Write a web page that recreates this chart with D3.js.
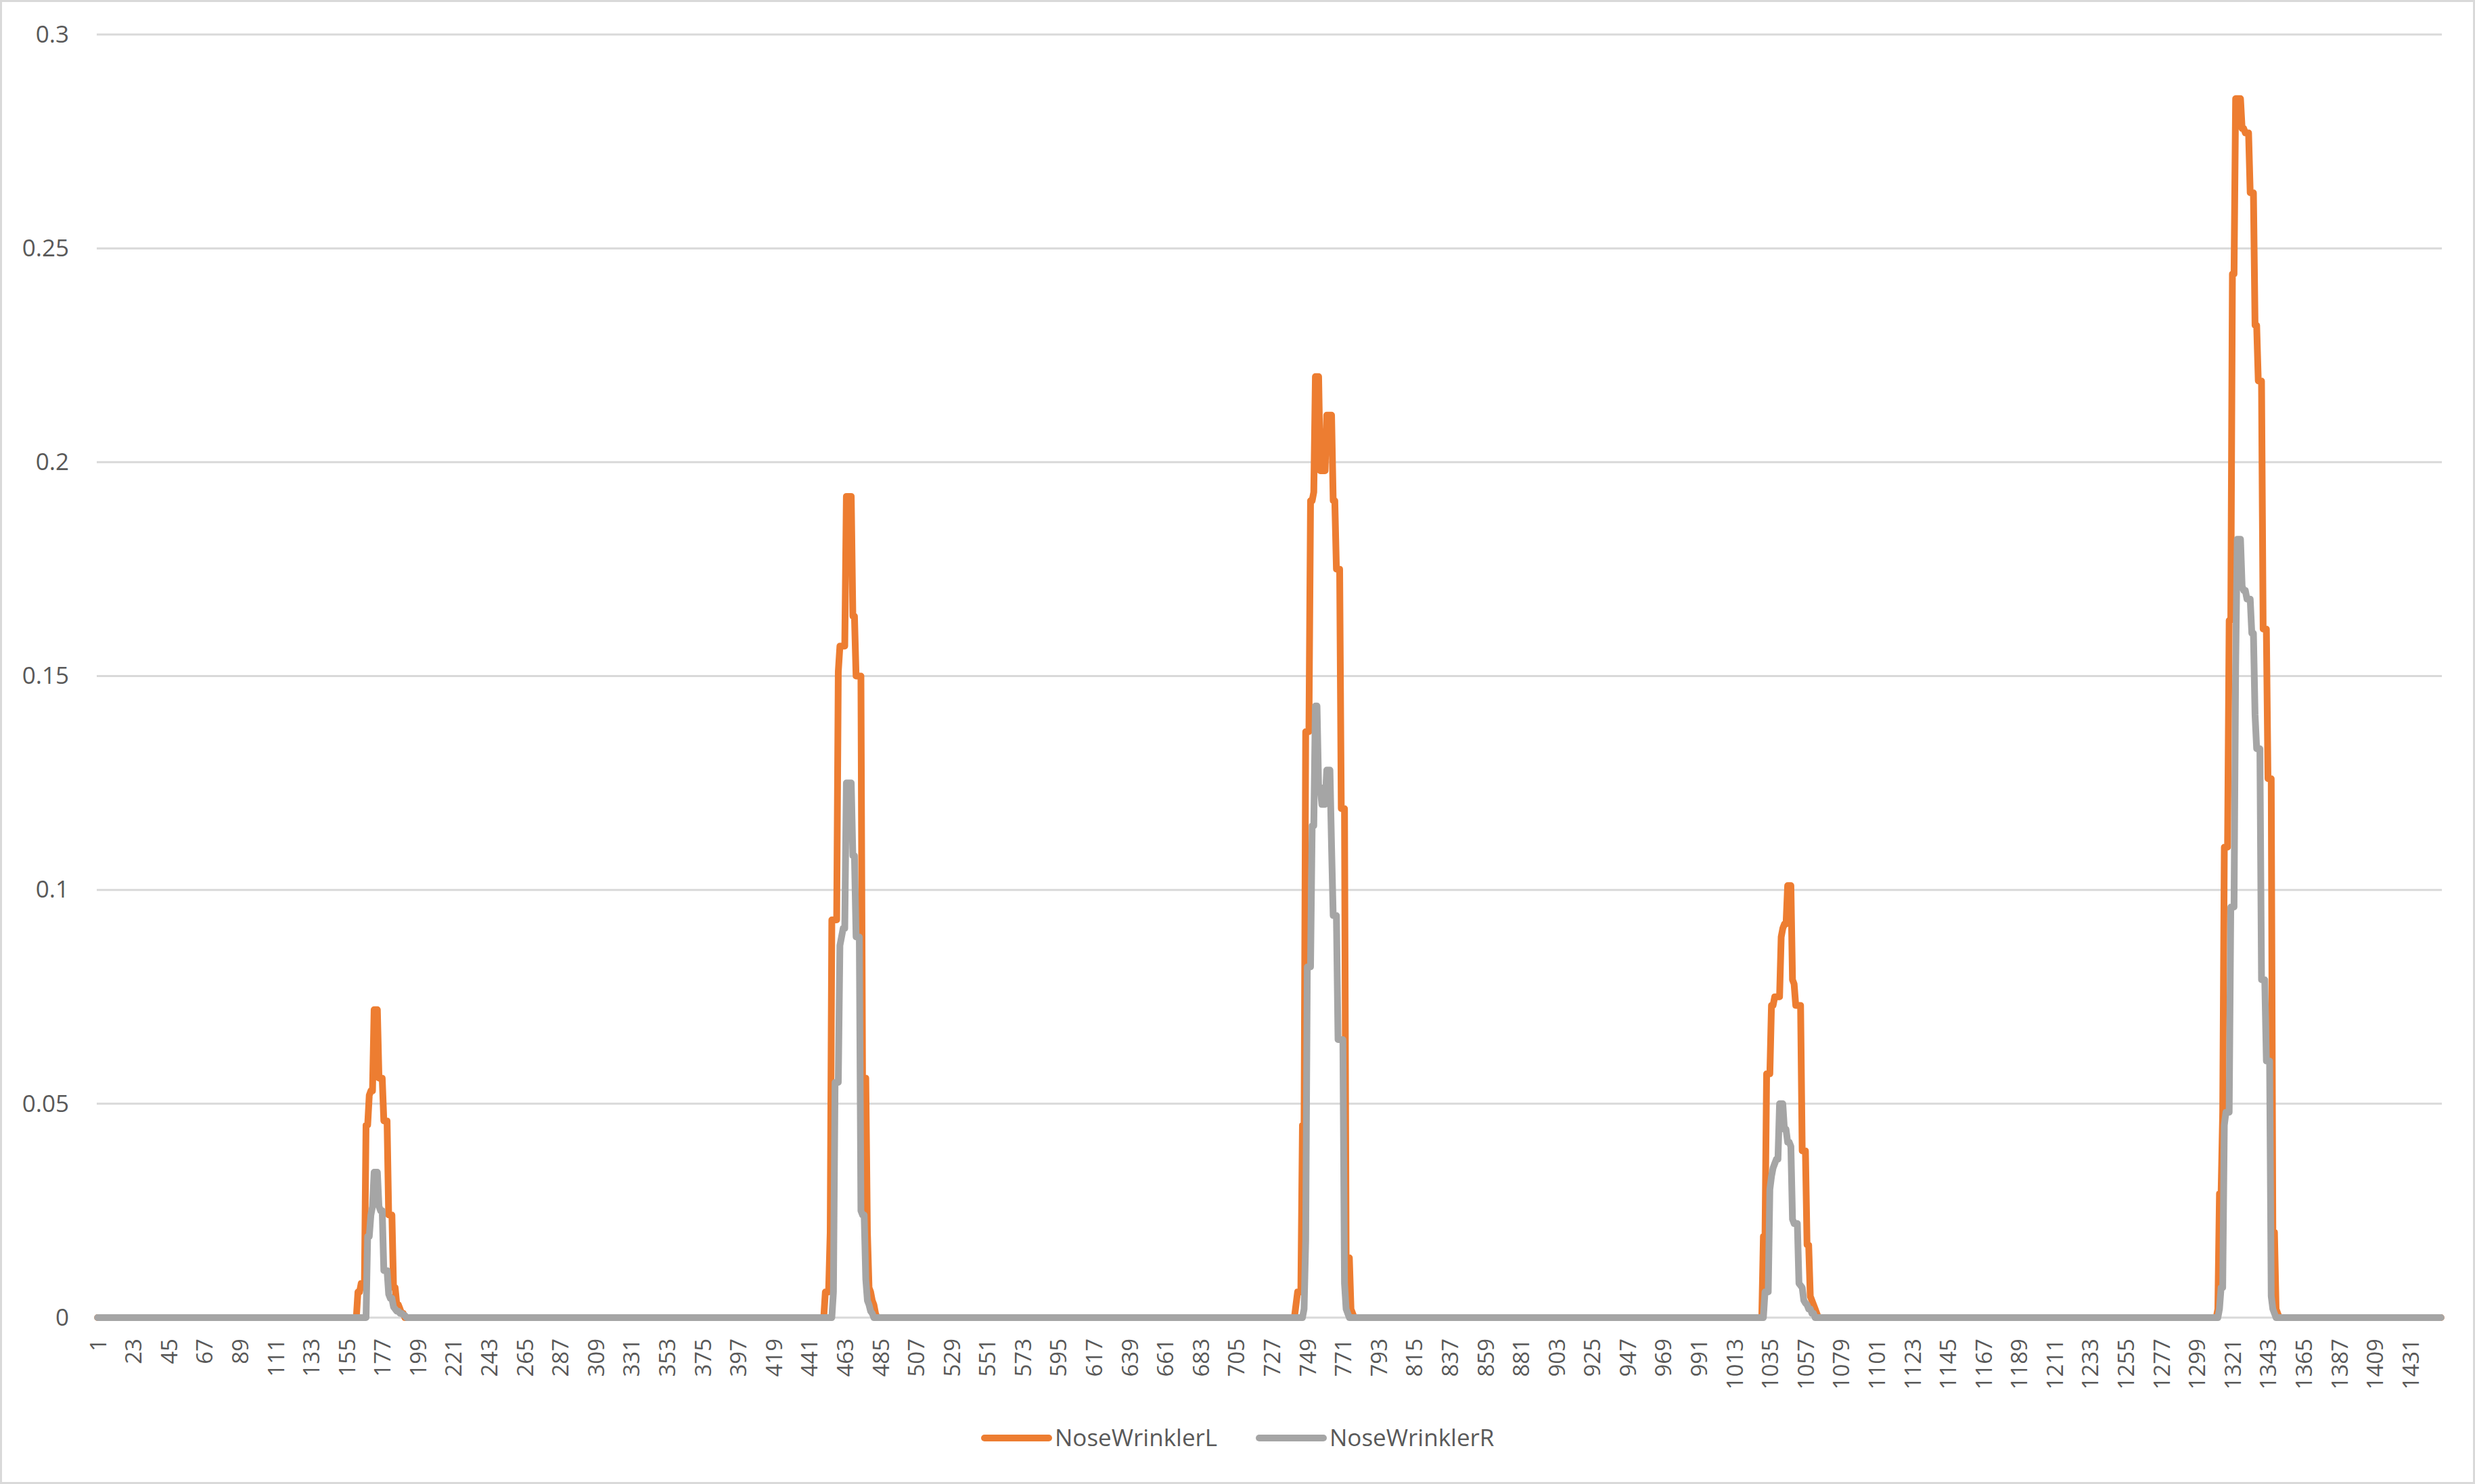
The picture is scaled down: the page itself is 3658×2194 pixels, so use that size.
<!DOCTYPE html>
<html>
<head>
<meta charset="utf-8">
<script src="https://cdnjs.cloudflare.com/ajax/libs/d3/7.8.5/d3.min.js"></script>
<style>
	html, body { margin: 0; padding: 0; background: #fff; }
	svg { display: block; font-family: "Open Sans", sans-serif; }
</style>
</head>
<body>
<div id="main"></div>
<script>
// Chart size and plot area
var totalWidth = 3658;
var totalHeight = 2194;
var plotLeft = 143;
var plotRight = 3609;
var plotTop = 51;
var plotBottom = 1948;
var lineWidth = 10;

// Categories (frame numbers) and axis ticks
var categoryCount = 1450;
var labelStep = 22;
var yTicks = [0, 0.05, 0.1, 0.15, 0.2, 0.25, 0.3];
var yLabels = ["0", "0.05", "0.1", "0.15", "0.2", "0.25", "0.3"];

var seriesNames = ["NoseWrinklerL", "NoseWrinklerR"];
var seriesColors = ["#ED7D31", "#A5A5A5"];

// NoseWrinklerL: first frame of each burst and its values (0 elsewhere)
var peakStartL = [162, 451, 742, 1031, 1312];
var peakValuesL = [
	[0.006, 0.006, 0.008, 0.008, 0.008, 0.045, 0.045, 0.052, 0.053, 0.053, 0.072, 0.072, 0.072, 0.056, 0.056, 0.056,
	 0.046, 0.046, 0.046, 0.024, 0.024, 0.024, 0.007, 0.007, 0.003, 0.003, 0.002, 0.001, 0.001],
	[0.006, 0.006, 0.006, 0.02, 0.093, 0.093, 0.093, 0.093, 0.151, 0.157, 0.157, 0.157, 0.157, 0.192, 0.192, 0.192,
	 0.192, 0.164, 0.164, 0.15, 0.15, 0.15, 0.15, 0.056, 0.056, 0.056, 0.02, 0.007, 0.006, 0.004, 0.003, 0.001],
	[0.003, 0.006, 0.006, 0.006, 0.045, 0.045, 0.137, 0.137, 0.137, 0.191, 0.191, 0.193, 0.22, 0.22, 0.22, 0.198,
	 0.198, 0.198, 0.198, 0.211, 0.211, 0.211, 0.211, 0.191, 0.191, 0.175, 0.175, 0.175, 0.119, 0.119, 0.119, 0.014,
	 0.014, 0.014, 0.002, 0.001],
	[0.019, 0.019, 0.057, 0.057, 0.057, 0.073, 0.073, 0.075, 0.075, 0.075, 0.075, 0.089, 0.091, 0.092, 0.092, 0.101,
	 0.101, 0.101, 0.079, 0.078, 0.073, 0.073, 0.073, 0.073, 0.039, 0.039, 0.039, 0.017, 0.017, 0.005, 0.004, 0.003,
	 0.002, 0.001],
	[0.002, 0.029, 0.029, 0.048, 0.11, 0.11, 0.11, 0.163, 0.163, 0.244, 0.244, 0.285, 0.285, 0.285, 0.285, 0.278,
	 0.278, 0.277, 0.277, 0.277, 0.263, 0.263, 0.263, 0.232, 0.232, 0.219, 0.219, 0.219, 0.161, 0.161, 0.161, 0.126,
	 0.126, 0.126, 0.02, 0.02, 0.002, 0.001]
];

// NoseWrinklerR: first frame of each burst and its values (0 elsewhere)
var peakStartR = [168, 456, 747, 1032, 1313];
var peakValuesR = [
	[0.019, 0.019, 0.024, 0.026, 0.034, 0.034, 0.034, 0.026, 0.025, 0.025, 0.011, 0.011, 0.011, 0.0055, 0.0045, 0.0045,
	 0.0025, 0.002, 0.0015, 0.0015, 0.001, 0.001, 0.0007, 0.0005],
	[0.006, 0.055, 0.055, 0.055, 0.087, 0.089, 0.091, 0.091, 0.125, 0.125, 0.125, 0.125, 0.108, 0.108, 0.089, 0.089,
	 0.089, 0.025, 0.024, 0.024, 0.009, 0.004, 0.003, 0.0015, 0.001],
	[0.002, 0.018, 0.082, 0.082, 0.082, 0.115, 0.115, 0.143, 0.143, 0.124, 0.124, 0.12, 0.12, 0.12, 0.128, 0.128,
	 0.128, 0.11, 0.094, 0.094, 0.094, 0.065, 0.065, 0.065, 0.065, 0.008, 0.002, 0.001],
	[0.006, 0.006, 0.006, 0.03, 0.033, 0.035, 0.036, 0.037, 0.037, 0.05, 0.05, 0.05, 0.044, 0.044, 0.041, 0.041,
	 0.04, 0.023, 0.022, 0.022, 0.022, 0.008, 0.0075, 0.007, 0.004, 0.0034, 0.003, 0.002, 0.002, 0.001, 0.001],
	[0.002, 0.007, 0.007, 0.045, 0.048, 0.048, 0.048, 0.096, 0.096, 0.096, 0.152, 0.182, 0.182, 0.182, 0.171, 0.17,
	 0.17, 0.168, 0.168, 0.168, 0.16, 0.16, 0.141, 0.133, 0.133, 0.133, 0.079, 0.079, 0.079, 0.06, 0.06, 0.06,
	 0.005, 0.002, 0.001]
];

var categories = d3.range(1, categoryCount + 1);

/**
* Builds one series: zero on every frame, burst values on their frames
**/
function buildSeries(starts, peaks) {
	var values = categories.map(function() { return 0; });
	starts.forEach(function(start, k) {
		peaks[k].forEach(function(v, j) {
			values[start - 1 + j] = v;
		});
	});
	return values;
}

var seriesValues = [buildSeries(peakStartL, peakValuesL), buildSeries(peakStartR, peakValuesR)];

function drawChart() {
	var svg = d3.select("#main").append("svg")
		.attr("width", totalWidth)
		.attr("height", totalHeight);

	// Chart border
	svg.append("rect")
		.attr("x", 1.5).attr("y", 1.5)
		.attr("width", totalWidth - 3).attr("height", totalHeight - 3)
		.attr("fill", "#fff")
		.attr("stroke", "#D9D9D9")
		.attr("stroke-width", 3);

	var x = d3.scalePoint()
		.domain(categories)
		.range([plotLeft, plotRight])
		.padding(0.5);

	var y = d3.scaleLinear()
		.domain([0, 0.3])
		.range([plotBottom, plotTop]);

	// Horizontal gridlines
	svg.append("g").selectAll("line")
		.data(yTicks)
		.enter().append("line")
		.attr("x1", plotLeft)
		.attr("x2", plotRight)
		.attr("y1", function(d) { return y(d); })
		.attr("y2", function(d) { return y(d); })
		.attr("stroke", "#D9D9D9")
		.attr("stroke-width", 3);

	// Y axis labels
	var yAxis = d3.axisLeft(y)
		.tickValues(yTicks)
		.tickSize(0)
		.tickPadding(0)
		.tickFormat(function(d, i) { return yLabels[i]; });
	var gy = svg.append("g")
		.attr("transform", "translate(102,0)")
		.call(yAxis);
	gy.select(".domain").remove();
	gy.selectAll("text")
		.attr("x", 0)
		.attr("fill", "#595959")
		.style("font-size", "35px")
		.style("font-family", "'Open Sans', sans-serif");

	// X axis labels, every 22 frames, rotated
	var xAxis = d3.axisBottom(x)
		.tickValues(categories.filter(function(c) { return (c - 1) % labelStep === 0; }))
		.tickSize(0)
		.tickPadding(0);
	var gx = svg.append("g")
		.attr("transform", "translate(0," + plotBottom + ")")
		.call(xAxis);
	gx.select(".domain").remove();
	gx.selectAll("text")
		.attr("transform", "rotate(-90)")
		.attr("text-anchor", "end")
		.attr("x", -31)
		.attr("y", 0)
		.attr("dy", "0.36em")
		.attr("fill", "#595959")
		.style("font-size", "33px")
		.style("font-family", "'Open Sans', sans-serif");

	// Series lines
	var line = d3.line()
		.x(function(d, i) { return x(categories[i]); })
		.y(function(d) { return y(d); });

	seriesValues.forEach(function(values, k) {
		svg.append("path")
			.datum(values)
			.attr("d", line)
			.attr("fill", "none")
			.attr("stroke", seriesColors[k])
			.attr("stroke-width", lineWidth)
			.attr("stroke-linejoin", "round")
			.attr("stroke-linecap", "round");
	});

	// Legend
	var legendX = [1455, 1861];
	var legendY = 2126;
	seriesNames.forEach(function(name, k) {
		svg.append("line")
			.attr("x1", legendX[k]).attr("x2", legendX[k] + 95)
			.attr("y1", legendY).attr("y2", legendY)
			.attr("stroke", seriesColors[k])
			.attr("stroke-width", lineWidth)
			.attr("stroke-linecap", "round");
		svg.append("text")
			.attr("x", legendX[k] + 104)
			.attr("y", legendY)
			.attr("dy", "0.35em")
			.attr("fill", "#595959")
			.style("font-size", "35px")
			.text(name);
	});
}

drawChart();
</script>
</body>
</html>
